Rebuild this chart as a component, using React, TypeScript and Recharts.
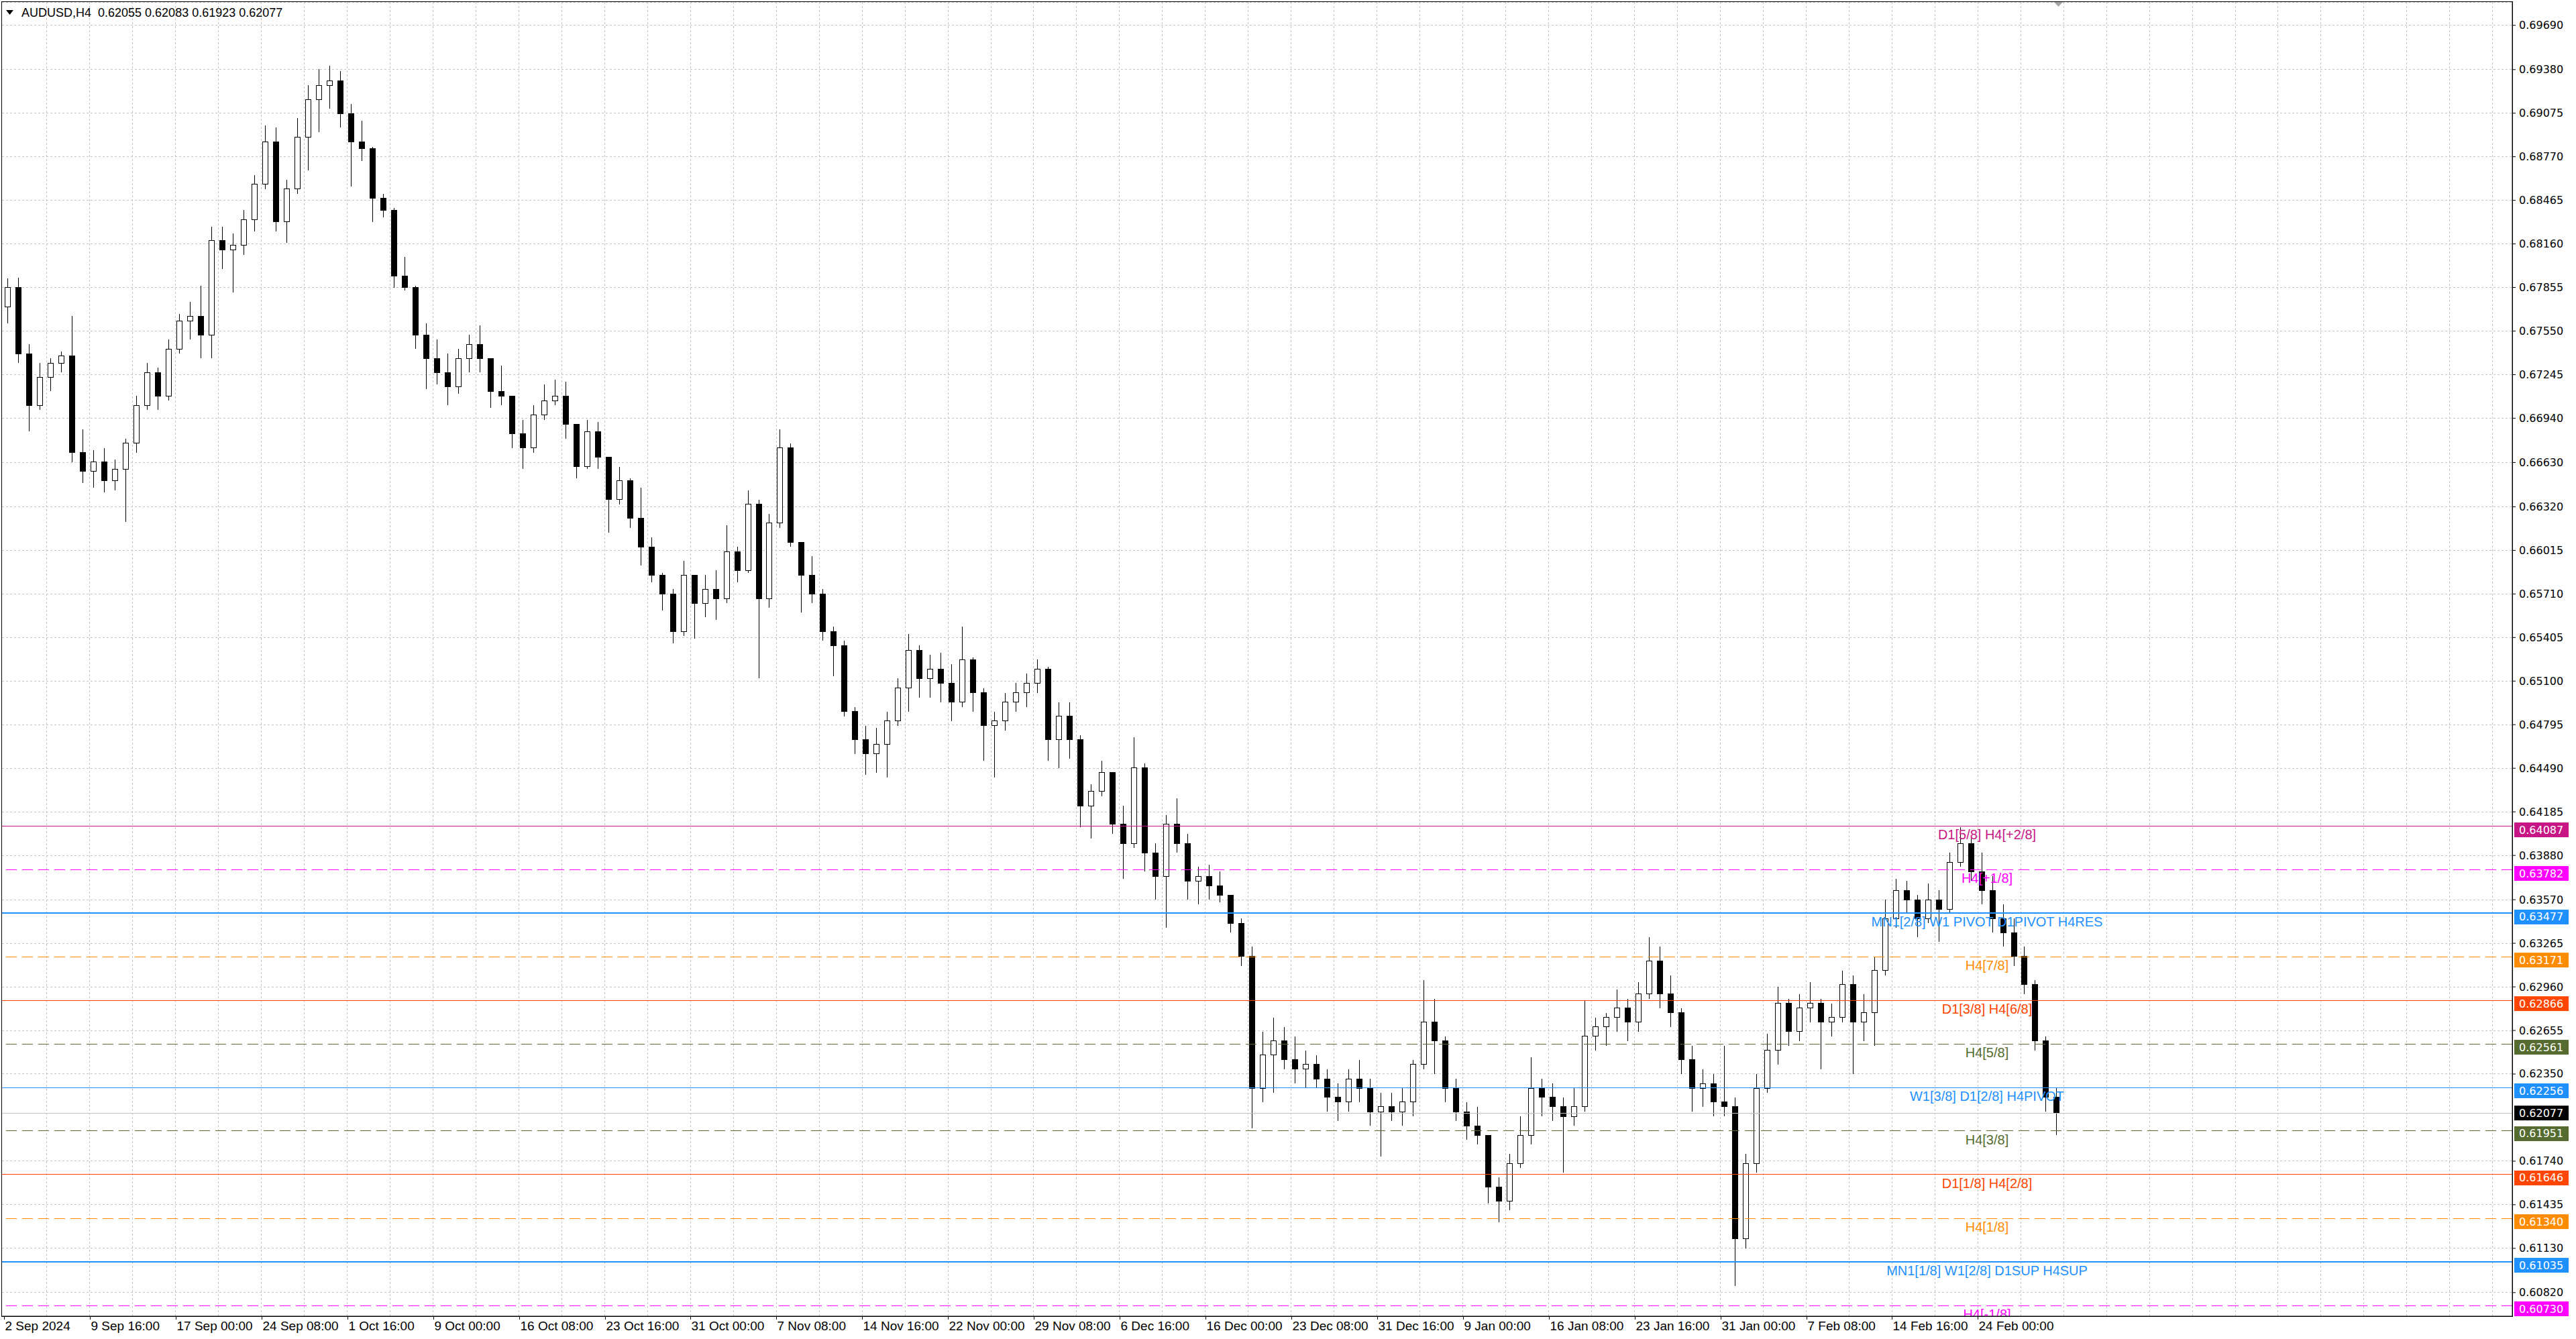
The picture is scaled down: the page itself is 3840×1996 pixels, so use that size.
import { ComposedChart, Bar, XAxis, YAxis, CartesianGrid, ReferenceLine } from "recharts";

const W = 3840;
const H = 1996;
const PLOT_L = 3;
const PLOT_T = 3;
const AXIS_W = 95;
const AXIS_H = 34;
const PLOT_W = W - AXIS_W - PLOT_L;
const PLOT_H = H - AXIS_H - PLOT_T;
const PLOT_B = H - AXIS_H;
const SLOTS = 234;
const LABEL_CX = 2962;
const BOX_X = 3748;
const BOX_W = 81;

const header = { symbol: "AUDUSD,H4", open: 0.62055, high: 0.62083, low: 0.61923, close: 0.62077 };

// one candle per 4 H4 bars (16 hours)
const opens = [
  0.67721, 0.67853, 0.67391, 0.67029, 0.67227, 0.67325, 0.67375, 0.66699, 0.66568, 0.66634,
  0.66502, 0.66584, 0.66765, 0.67029, 0.6726, 0.67095, 0.67424, 0.67622, 0.67655, 0.67523,
  0.68182, 0.68116, 0.68149, 0.6833, 0.68578, 0.68874, 0.68314, 0.68545, 0.68907, 0.69171,
  0.6927, 0.69302, 0.69072, 0.68874, 0.68825, 0.68479, 0.68396, 0.67935, 0.67853, 0.67523,
  0.67358, 0.6726, 0.67161, 0.67358, 0.67457, 0.67358, 0.67128, 0.67095, 0.66831, 0.66732,
  0.66963, 0.67062, 0.67095, 0.66897, 0.66601, 0.66848, 0.66666, 0.6637, 0.66502, 0.66238,
  0.6604, 0.65843, 0.65711, 0.65447, 0.65843, 0.65645, 0.65744, 0.65678, 0.66007, 0.65876,
  0.66337, 0.65678, 0.66205, 0.66732, 0.66073, 0.65843, 0.65711, 0.65447, 0.65348, 0.64887,
  0.64689, 0.64591, 0.64657, 0.64821, 0.65052, 0.65316, 0.65118, 0.65184, 0.65085, 0.64953,
  0.6525, 0.65019, 0.64788, 0.64821, 0.64953, 0.65019, 0.65085, 0.65184, 0.64689, 0.64855,
  0.6469, 0.64228, 0.64327, 0.64459, 0.64097, 0.63965, 0.64492, 0.63899, 0.63734, 0.64097,
  0.63965, 0.63701, 0.63734, 0.63668, 0.63602, 0.63405, 0.63174, 0.62251, 0.62482, 0.62581,
  0.62449, 0.62383, 0.62416, 0.62317, 0.62186, 0.62153, 0.62317, 0.62251, 0.62087, 0.6212,
  0.62087, 0.62153, 0.62416, 0.62713, 0.62581, 0.62251, 0.62087, 0.61988, 0.61922, 0.6156,
  0.61461, 0.61724, 0.61922, 0.62251, 0.62186, 0.6212, 0.62054, 0.6212, 0.62614, 0.6268,
  0.62746, 0.62812, 0.62713, 0.6291, 0.63141, 0.6291, 0.62779, 0.62449, 0.62251, 0.62284,
  0.62153, 0.6212, 0.61197, 0.61724, 0.62251, 0.62515, 0.62845, 0.62647, 0.62812, 0.62845,
  0.62713, 0.62746, 0.62976, 0.62713, 0.62779, 0.63075, 0.63438, 0.63635, 0.63569, 0.63438,
  0.63569, 0.63504, 0.63833, 0.63965, 0.63767, 0.63635, 0.63438, 0.63339, 0.63174, 0.62976,
  0.62581, 0.62186,
];

const highs = [
  0.67919, 0.67925, 0.67457, 0.67325, 0.67358, 0.67408, 0.67655, 0.66864, 0.66716, 0.66732,
  0.6665, 0.66798, 0.67095, 0.67325, 0.67293, 0.6749, 0.67671, 0.67754, 0.67869, 0.68281,
  0.68281, 0.68232, 0.68396, 0.68643, 0.68989, 0.68973, 0.68611, 0.69039, 0.6927, 0.69385,
  0.69408, 0.69368, 0.69138, 0.69022, 0.68841, 0.68512, 0.68413, 0.68067, 0.67869, 0.67606,
  0.6749, 0.67391, 0.67424, 0.67523, 0.67589, 0.67358, 0.67309, 0.67095, 0.6693, 0.67029,
  0.67177, 0.6721, 0.67194, 0.66897, 0.6693, 0.66914, 0.66666, 0.66601, 0.66518, 0.66452,
  0.66106, 0.65859, 0.65744, 0.65942, 0.65843, 0.65843, 0.65876, 0.66189, 0.6604, 0.66436,
  0.6637, 0.66271, 0.66864, 0.66765, 0.66073, 0.65975, 0.65744, 0.6548, 0.65381, 0.6492,
  0.64788, 0.64772, 0.64887, 0.65118, 0.65431, 0.65348, 0.65283, 0.65299, 0.65217, 0.6548,
  0.65266, 0.65052, 0.64887, 0.65019, 0.65085, 0.65151, 0.6525, 0.652, 0.64953, 0.64953,
  0.64723, 0.64377, 0.64542, 0.64459, 0.64228, 0.64706, 0.64525, 0.63965, 0.64163, 0.64278,
  0.64031, 0.638, 0.63817, 0.63767, 0.63602, 0.63438, 0.6324, 0.62647, 0.62746, 0.6268,
  0.62614, 0.62515, 0.62482, 0.62383, 0.62284, 0.62383, 0.62449, 0.62317, 0.62219, 0.62219,
  0.62251, 0.62449, 0.63009, 0.62878, 0.62614, 0.62317, 0.62153, 0.6212, 0.61922, 0.61626,
  0.6179, 0.62054, 0.62466, 0.62317, 0.62284, 0.62186, 0.62251, 0.62861, 0.62746, 0.62779,
  0.62943, 0.62878, 0.62993, 0.63306, 0.6324, 0.63042, 0.62812, 0.62548, 0.62383, 0.6235,
  0.62548, 0.62186, 0.6179, 0.6235, 0.6263, 0.6296, 0.62878, 0.6291, 0.62993, 0.62878,
  0.62845, 0.63075, 0.63042, 0.6291, 0.63174, 0.63569, 0.63718, 0.63701, 0.63602, 0.63685,
  0.63635, 0.63899, 0.6408, 0.63998, 0.63899, 0.63734, 0.63537, 0.63438, 0.6324, 0.63009,
  0.62614, 0.62251,
];

const lows = [
  0.67606, 0.67325, 0.66848, 0.66996, 0.67128, 0.6726, 0.66634, 0.66485, 0.66452, 0.66419,
  0.66436, 0.66215, 0.66699, 0.66996, 0.66996, 0.67062, 0.67391, 0.6749, 0.67358, 0.67358,
  0.67984, 0.6782, 0.68083, 0.68248, 0.68545, 0.68248, 0.68166, 0.68512, 0.68676, 0.6894,
  0.69105, 0.68973, 0.68561, 0.68742, 0.68314, 0.68347, 0.67853, 0.67836, 0.67424, 0.67144,
  0.67177, 0.67029, 0.67111, 0.6726, 0.6726, 0.67012, 0.67029, 0.66732, 0.66584, 0.66699,
  0.6693, 0.67029, 0.66798, 0.66518, 0.66584, 0.66584, 0.66139, 0.66337, 0.66172, 0.65909,
  0.65793, 0.65596, 0.65365, 0.65414, 0.65398, 0.65546, 0.6553, 0.65645, 0.65793, 0.65859,
  0.65118, 0.65612, 0.66172, 0.6604, 0.65579, 0.65645, 0.65381, 0.65134, 0.64854, 0.64591,
  0.64443, 0.64459, 0.64426, 0.64788, 0.64887, 0.64986, 0.64986, 0.64953, 0.64821, 0.6492,
  0.64887, 0.64541, 0.64426, 0.64755, 0.64887, 0.6492, 0.65019, 0.64541, 0.64492, 0.64558,
  0.6408, 0.63998, 0.64294, 0.64031, 0.63718, 0.63932, 0.63767, 0.63569, 0.63372, 0.63899,
  0.63569, 0.63537, 0.63569, 0.63553, 0.63339, 0.63108, 0.61972, 0.62153, 0.62219, 0.62383,
  0.62284, 0.62251, 0.62251, 0.62087, 0.62021, 0.62087, 0.62153, 0.61988, 0.61774, 0.62021,
  0.61988, 0.62054, 0.62383, 0.6235, 0.62153, 0.62021, 0.61889, 0.61856, 0.61444, 0.61313,
  0.61395, 0.61691, 0.61856, 0.62054, 0.62021, 0.61658, 0.61988, 0.62087, 0.62515, 0.62548,
  0.62647, 0.62581, 0.62647, 0.62878, 0.62812, 0.6268, 0.6235, 0.62087, 0.6212, 0.62054,
  0.62054, 0.60868, 0.61131, 0.61658, 0.62219, 0.62416, 0.62548, 0.62581, 0.62713, 0.62383,
  0.62614, 0.62713, 0.6235, 0.62581, 0.62548, 0.63042, 0.63372, 0.63471, 0.63306, 0.63405,
  0.63273, 0.63471, 0.638, 0.63701, 0.63537, 0.63339, 0.6324, 0.63108, 0.6291, 0.62515,
  0.62087, 0.61923,
];

const closes = [
  0.67853, 0.67391, 0.67029, 0.67227, 0.67325, 0.67375, 0.66699, 0.66568, 0.66634, 0.66502,
  0.66584, 0.66765, 0.67029, 0.6726, 0.67095, 0.67424, 0.67622, 0.67655, 0.67523, 0.68182,
  0.68116, 0.68149, 0.6833, 0.68578, 0.68874, 0.68314, 0.68545, 0.68907, 0.69171, 0.6927,
  0.69302, 0.69072, 0.68874, 0.68825, 0.68479, 0.68396, 0.67935, 0.67853, 0.67523, 0.67358,
  0.6726, 0.67161, 0.67358, 0.67457, 0.67358, 0.67128, 0.67095, 0.66831, 0.66732, 0.66963,
  0.67062, 0.67095, 0.66897, 0.66601, 0.66848, 0.66666, 0.6637, 0.66502, 0.66238, 0.6604,
  0.65843, 0.65711, 0.65447, 0.65843, 0.65645, 0.65744, 0.65678, 0.66007, 0.65876, 0.66337,
  0.65678, 0.66205, 0.66732, 0.66073, 0.65843, 0.65711, 0.65447, 0.65348, 0.64887, 0.64689,
  0.64591, 0.64657, 0.64821, 0.65052, 0.65316, 0.65118, 0.65184, 0.65085, 0.64953, 0.6525,
  0.65019, 0.64788, 0.64821, 0.64953, 0.65019, 0.65085, 0.65184, 0.64689, 0.64854, 0.6469,
  0.64228, 0.64327, 0.64459, 0.64097, 0.63965, 0.64492, 0.63899, 0.63734, 0.64097, 0.63965,
  0.63701, 0.63734, 0.63668, 0.63602, 0.63405, 0.63174, 0.62251, 0.62482, 0.62581, 0.62449,
  0.62383, 0.62416, 0.62317, 0.62186, 0.62153, 0.62317, 0.62251, 0.62087, 0.6212, 0.62087,
  0.62153, 0.62416, 0.62713, 0.62581, 0.62251, 0.62087, 0.61988, 0.61922, 0.6156, 0.61461,
  0.61724, 0.61922, 0.62251, 0.62186, 0.6212, 0.62054, 0.6212, 0.62614, 0.6268, 0.62746,
  0.62812, 0.62713, 0.6291, 0.63141, 0.6291, 0.62779, 0.62449, 0.62251, 0.62284, 0.62153,
  0.6212, 0.61197, 0.61724, 0.62251, 0.62515, 0.62845, 0.62647, 0.62812, 0.62845, 0.62713,
  0.62746, 0.62976, 0.62713, 0.62779, 0.63075, 0.63438, 0.63635, 0.63569, 0.63438, 0.63569,
  0.63504, 0.63833, 0.63965, 0.63767, 0.63635, 0.63438, 0.63339, 0.63174, 0.62976, 0.62581,
  0.62186, 0.62077,
];

const dateLabels = [
  "2 Sep 2024", "9 Sep 16:00", "17 Sep 00:00", "24 Sep 08:00", "1 Oct 16:00", "9 Oct 00:00",
  "16 Oct 08:00", "23 Oct 16:00", "31 Oct 00:00", "7 Nov 08:00", "14 Nov 16:00", "22 Nov 00:00",
  "29 Nov 08:00", "6 Dec 16:00", "16 Dec 00:00", "23 Dec 08:00", "31 Dec 16:00", "9 Jan 00:00",
  "16 Jan 08:00", "23 Jan 16:00", "31 Jan 00:00", "7 Feb 08:00", "14 Feb 16:00", "24 Feb 00:00",
];

const priceTicks = [
  0.6969, 0.6938, 0.69075, 0.6877, 0.68465, 0.6816, 0.67855, 0.6755, 0.67245, 0.6694,
  0.6663, 0.6632, 0.66015, 0.6571, 0.65405, 0.651, 0.64795, 0.6449, 0.64185, 0.6388,
  0.6357, 0.63265, 0.6296, 0.62655, 0.6235, 0.6174, 0.61435, 0.6113, 0.6082,
];

const levelPrices = [
  0.64087, 0.63782, 0.63477, 0.63171, 0.62866, 0.62561, 0.62256, 0.62077, 0.61951, 0.61646, 0.6134, 0.61035, 0.6073,
];
const levelNames = [
  "D1[5/8] H4[+2/8]", "H4[+1/8]", "MN1[2/8] W1 PIVOT D1PIVOT H4RES", "H4[7/8]", "D1[3/8] H4[6/8]",
  "H4[5/8]", "W1[3/8] D1[2/8] H4PIVOT", "", "H4[3/8]", "D1[1/8] H4[2/8]", "H4[1/8]",
  "MN1[1/8] W1[2/8] D1SUP H4SUP", "H4[-1/8]",
];
const levelStyles = [
  { color: "#C71585", box: "#C71585", dash: undefined, width: 1, dy: -5 },
  { color: "#FF00FF", box: "#FF00FF", dash: "16 8", width: 1, dy: -5 },
  { color: "#1E90FF", box: "#1E90FF", dash: undefined, width: 2, dy: -5 },
  { color: "#FF8C00", box: "#FF8C00", dash: "16 8", width: 1, dy: -6 },
  { color: "#FF4500", box: "#FF4500", dash: undefined, width: 1, dy: -6 },
  { color: "#556B2F", box: "#556B2F", dash: "16 8", width: 1, dy: -6 },
  { color: "#1E90FF", box: "#1E90FF", dash: undefined, width: 1, dy: -6 },
  { color: "#C0C0C0", box: "#000000", dash: undefined, width: 1, dy: -11 },
  { color: "#556B2F", box: "#556B2F", dash: "16 8", width: 1, dy: -7 },
  { color: "#FF4500", box: "#FF4500", dash: undefined, width: 1, dy: -6 },
  { color: "#FF8C00", box: "#FF8C00", dash: "16 8", width: 1, dy: -6 },
  { color: "#1E90FF", box: "#1E90FF", dash: undefined, width: 2, dy: -6 },
  { color: "#FF00FF", box: "#FF00FF", dash: "16 8", width: 1, dy: -6 },
];

const data = Array.from({ length: SLOTS }, (_, i) =>
  i < closes.length
    ? { t: i, range: [lows[i], highs[i]], o: opens[i], h: highs[i], l: lows[i], c: closes[i] }
    : { t: i, range: null }
);

const xTicks = Array.from({ length: SLOTS / 2 }, (_, k) => k * 4).filter((v) => v < SLOTS);

function Candle(props: any) {
  const { x, y, width, height, payload } = props;
  if (!payload || payload.o == null) return null;
  const top = Math.min(y, y + height);
  const bot = Math.max(y, y + height);
  const span = payload.h - payload.l;
  const py = (v: number) => (span > 0 ? top + ((payload.h - v) / span) * (bot - top) : top);
  const cx = Math.round(x + width / 2) + 0.5;
  const bw = 8;
  const yo = py(payload.o);
  const yc = py(payload.c);
  const bull = payload.c >= payload.o;
  const by = Math.min(yo, yc);
  const bh = Math.max(1, Math.abs(yo - yc));
  return (
    <g shapeRendering="crispEdges">
      <line x1={cx} x2={cx} y1={top} y2={bot} stroke="#000" strokeWidth={1} />
      <rect x={cx - bw / 2} y={by} width={bw} height={bh} fill={bull ? "#fff" : "#000"} stroke="#000" strokeWidth={1} />
    </g>
  );
}

function PriceTick(props: any) {
  const { x, y, payload } = props;
  return (
    <text x={x} y={y} dominantBaseline="central" fontSize={16} fontFamily="DejaVu Sans, Verdana, sans-serif" fill="#000">
      {payload.value.toFixed(5)}
    </text>
  );
}

function DateTick(props: any) {
  const { x, payload } = props;
  const idx = payload.value / 8;
  if (!Number.isInteger(idx) || !dateLabels[idx]) return null;
  const tx = Math.round(x - 5) + 0.5;
  return (
    <g>
      <line x1={tx} x2={tx} y1={PLOT_B} y2={PLOT_B + 5} stroke="#000" />
      <text x={tx + 1} y={PLOT_B + 21} fontSize={19} fontFamily="Liberation Sans, Arial, sans-serif" fill="#000">
        {dateLabels[idx]}
      </text>
    </g>
  );
}

function LevelLabel(props: any) {
  const { viewBox, k } = props;
  if (!viewBox) return null;
  const y = viewBox.y;
  const st = levelStyles[k];
  const name = levelNames[k];
  return (
    <g>
      {name ? (
        <svg x={PLOT_L} y={PLOT_T} width={PLOT_W} height={PLOT_H} overflow="hidden">
          <text
            x={LABEL_CX - PLOT_L}
            y={y - PLOT_T + 20}
            textAnchor="middle"
            fontSize={20}
            fontFamily="Liberation Sans, Arial, sans-serif"
            fill={st.color}
          >
            {name}
          </text>
        </svg>
      ) : null}
      <rect x={BOX_X} y={y + st.dy} width={BOX_W} height={22} fill={st.box} />
      <text
        x={BOX_X + 7}
        y={y + st.dy + 11}
        dominantBaseline="central"
        fontSize={16}
        fontFamily="DejaVu Sans, Verdana, sans-serif"
        fill="#fff"
      >
        {levelPrices[k].toFixed(5)}
      </text>
    </g>
  );
}

export default function App() {
  const headerText = `${header.symbol}  ${header.open.toFixed(5)} ${header.high.toFixed(5)} ${header.low.toFixed(5)} ${header.close.toFixed(5)}`;
  return (
    <div style={{ position: "fixed", left: 0, top: 0, width: W, height: H, background: "#fff", overflow: "hidden" }}>
      <ComposedChart width={W} height={H} data={data} margin={{ top: PLOT_T, right: 0, bottom: 0, left: PLOT_L }}>
        <CartesianGrid
          stroke="#C4C4C4"
          strokeDasharray="3 3"
          shapeRendering="crispEdges"
          verticalCoordinatesGenerator={({ offset }: any) =>
            xTicks.filter((s) => s > 0).map((s) => offset.left + (s / SLOTS) * offset.width + 2.8)
          }
        />
        <XAxis
          dataKey="t"
          type="category"
          height={AXIS_H}
          ticks={xTicks}
          interval={0}
          tickLine={false}
          axisLine={{ stroke: "#000" }}
          tick={(p: any) => <DateTick {...p} />}
        />
        <YAxis
          orientation="right"
          width={AXIS_W}
          type="number"
          domain={[0.60655, 0.69853]}
          allowDataOverflow
          ticks={priceTicks}
          interval={0}
          tickSize={5}
          tickMargin={5}
          tickLine={{ stroke: "#000" }}
          axisLine={{ stroke: "#000" }}
          tick={(p: any) => <PriceTick {...p} />}
        />
        {levelPrices.map((p, k) => (
          <ReferenceLine
            key={k}
            y={p}
            stroke={levelStyles[k].color}
            strokeWidth={levelStyles[k].width}
            strokeDasharray={levelStyles[k].dash}
            shapeRendering="crispEdges"
            label={(lp: any) => <LevelLabel {...lp} k={k} />}
          />
        ))}
        <Bar dataKey="range" isAnimationActive={false} shape={(p: any) => <Candle {...p} />} />
      </ComposedChart>
      <div
        style={{
          position: "absolute",
          left: PLOT_L - 1,
          top: PLOT_T - 1,
          width: PLOT_W,
          height: PLOT_H,
          border: "1px solid #000",
          pointerEvents: "none",
        }}
      />
      <svg style={{ position: "absolute", left: 9, top: 15 }} width={12} height={9}>
        <polygon points="0,0 11,0 5.5,7" fill="#000" />
      </svg>
      <div
        style={{
          position: "absolute",
          left: 32,
          top: 9,
          fontSize: 18,
          lineHeight: "20px",
          fontFamily: "Liberation Sans, Arial, sans-serif",
          whiteSpace: "pre",
          color: "#000",
        }}
      >
        {headerText}
      </div>
      <svg style={{ position: "absolute", left: 3062, top: 3 }} width={14} height={8}>
        <polygon points="0,0 13,0 6.5,7" fill="#A8A8A8" />
      </svg>
    </div>
  );
}
